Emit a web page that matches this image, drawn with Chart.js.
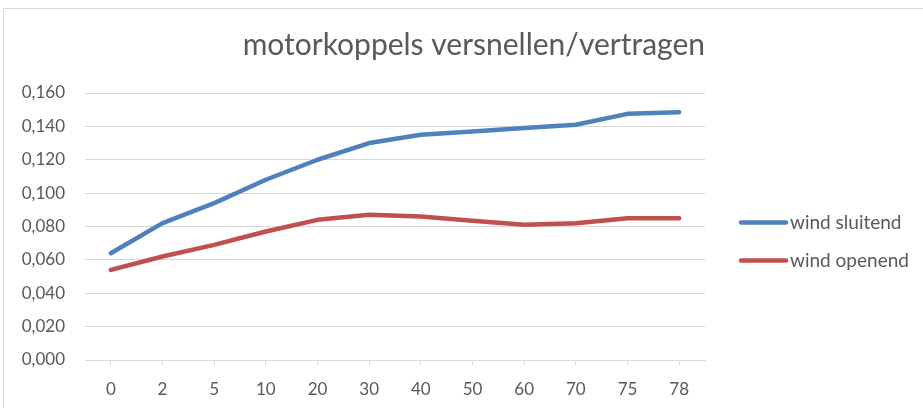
<!DOCTYPE html>
<html>
<head>
<meta charset="utf-8">
<script src="https://cdn.jsdelivr.net/npm/chart.js@4/dist/chart.umd.min.js"></script>
<style>
  html, body { margin: 0; padding: 0; background: #fff; overflow: hidden; }
  #frame { position: absolute; left: 3px; top: 8px; width: 960px; height: 440px; border: 1px solid #d9d9d9; }
  #wrap { position: absolute; left: 0; top: 0; width: 923px; height: 408px; }
</style>
</head>
<body>
<div id="frame"></div>
<div id="wrap"><canvas id="koppelChart"></canvas></div>
<script>
// snelheid in %
const categories = ['0', '2', '5', '10', '20', '30', '40', '50', '60', '70', '75', '78'];

// motorkoppel per stand
const windSluitend = [0.064, 0.082, 0.094, 0.108, 0.120, 0.130, 0.135, 0.137, 0.139, 0.141, 0.1475, 0.1485];
const windOpenend = [0.054, 0.062, 0.069, 0.077, 0.084, 0.087, 0.086, 0.0835, 0.081, 0.082, 0.085, 0.085];

const seriesNames = ['wind sluitend', 'wind openend'];
const seriesColors = ['#4f81bd', '#c0504d'];

const textColor = '#595959';
const gridColor = '#d9d9d9';
const fontFamily = 'Lato, "Open Sans", sans-serif';

// legend rechts naast de grafiek, lijntje + tekst
const sideLegend = {
    id: 'sideLegend',
    afterDraw(chart) {
        const { ctx, chartArea } = chart;
        const mid = (chartArea.top + chartArea.bottom) / 2 + 15;
        chart.data.datasets.forEach((ds, i) => {
            const y = mid - 19 + i * 38;
            const x0 = chartArea.right + 36;
            ctx.save();
            ctx.strokeStyle = ds.borderColor;
            ctx.lineWidth = 4.5;
            ctx.lineCap = 'round';
            ctx.beginPath();
            ctx.moveTo(x0, y);
            ctx.lineTo(x0 + 45, y);
            ctx.stroke();
            ctx.fillStyle = textColor;
            ctx.font = '19px ' + fontFamily;
            ctx.textBaseline = 'middle';
            ctx.fillText(ds.label, x0 + 49, y);
            ctx.restore();
        });
    }
};

const ctx = document.getElementById('koppelChart').getContext('2d');
const koppelChart = new Chart(ctx, {
    type: 'line',
    data: {
        labels: categories,
        datasets: [{
            label: seriesNames[0],
            data: windSluitend,
            borderColor: seriesColors[0],
            backgroundColor: seriesColors[0],
            borderWidth: 4.5,
            borderCapStyle: 'round',
            borderJoinStyle: 'round',
            pointRadius: 0,
            tension: 0
        }, {
            label: seriesNames[1],
            data: windOpenend,
            borderColor: seriesColors[1],
            backgroundColor: seriesColors[1],
            borderWidth: 4.5,
            borderCapStyle: 'round',
            borderJoinStyle: 'round',
            pointRadius: 0,
            tension: 0
        }]
    },
    options: {
        responsive: true,
        maintainAspectRatio: false,
        animation: false,
        layout: {
            padding: { left: 0, right: 218, top: 0, bottom: 0 }
        },
        scales: {
            x: {
                offset: true,
                grid: {
                    drawOnChartArea: false,
                    color: gridColor,
                    tickLength: 5
                },
                border: { color: gridColor, width: 1 },
                ticks: {
                    color: textColor,
                    padding: 14,
                    font: { family: fontFamily, size: 17 }
                },
                afterFit: function (scale) {
                    scale.height = 48;
                }
            },
            y: {
                min: 0,
                max: 0.16,
                grid: {
                    color: gridColor,
                    drawTicks: false
                },
                border: { display: false },
                ticks: {
                    stepSize: 0.02,
                    color: textColor,
                    padding: 20,
                    font: { family: fontFamily, size: 17 },
                    callback: function (value) {
                        return value.toFixed(3).replace('.', ',');
                    }
                },
                afterFit: function (scale) {
                    scale.width = 85;
                }
            }
        },
        plugins: {
            title: {
                display: true,
                text: 'motorkoppels versnellen/vertragen',
                align: 'end',
                color: textColor,
                font: { family: fontFamily, size: 30, weight: 'normal' },
                padding: { top: 27, bottom: 30 }
            },
            legend: {
                display: false
            },
            tooltip: { enabled: false }
        }
    },
    plugins: [sideLegend]
});
</script>
</body>
</html>
